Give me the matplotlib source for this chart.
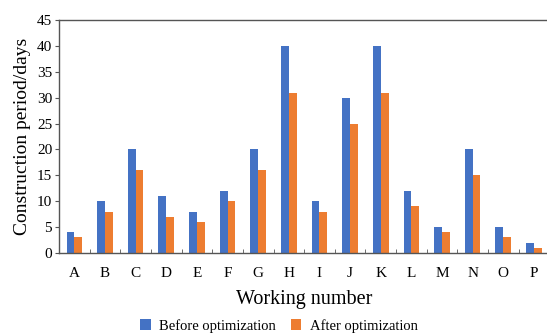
import matplotlib.pyplot as plt
import numpy as np

plt.rcParams['font.family'] = ['Liberation Serif', 'DejaVu Serif']

labels = ['A', 'B', 'C', 'D', 'E', 'F', 'G', 'H', 'I', 'J', 'K', 'L', 'M', 'N', 'O', 'P']
before = [4, 10, 20, 11, 8, 12, 20, 40, 10, 30, 40, 12, 5, 20, 5, 2]
after = [3, 8, 16, 7, 6, 10, 16, 31, 8, 25, 31, 9, 4, 15, 3, 1]

blue = '#4472C4'
orange = '#ED7D31'

fig = plt.figure(figsize=(5.47, 3.34), dpi=100)
ax = fig.add_axes([0.108, 0.2425, 0.896, 0.6975])

x = np.arange(len(labels))
w = 0.255
ax.bar(x - w / 2, before, w, color=blue, label='Before optimization')
ax.bar(x + w / 2, after, w, color=orange, label='After optimization')

ax.set_xlim(-0.5, len(labels) - 0.5)
ax.set_ylim(0, 45)
ax.set_yticks(range(0, 46, 5))
ax.set_xticks(x)
ax.set_xticklabels(labels, fontsize=11)
ax.set_xticks(np.arange(-0.5, len(labels), 1), minor=True)
ax.tick_params(axis='x', which='major', length=0, pad=10)
ax.tick_params(axis='x', which='minor', direction='in', length=3, color='#555555')
ax.tick_params(axis='y', labelsize=11, length=3, color='#555555', pad=2)

for s in ['left', 'bottom', 'top', 'right']:
    ax.spines[s].set_color('#555555')
    ax.spines[s].set_linewidth(1.0)

ax.set_xlabel('Working number', fontsize=14.5, labelpad=7)
ax.set_ylabel('Construction period/days', fontsize=14, labelpad=4)

fig.legend(loc='lower center', bbox_to_anchor=(0.51, -0.035), ncol=2, frameon=False,
           fontsize=10.5, handlelength=0.7, handleheight=0.7, columnspacing=1.0, handletextpad=0.6)

fig.savefig('out.png', dpi=100)
